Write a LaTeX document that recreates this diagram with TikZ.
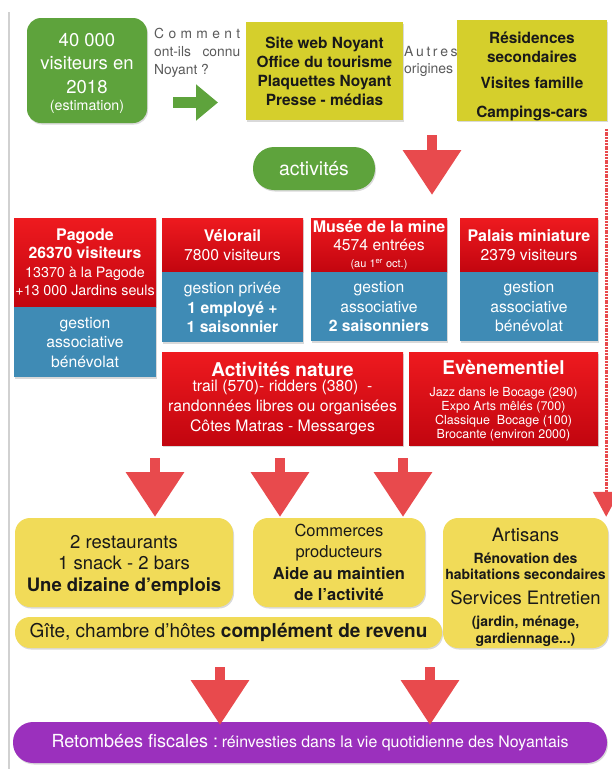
\documentclass[tikz,border=0pt]{standalone}
\usepackage{fontspec}
\setmainfont{TeX Gyre Heros}
\usetikzlibrary{arrows.meta, positioning, shadows}
\definecolor{leafgreen}{HTML}{5EA33C}
\definecolor{olivey}{HTML}{D5CF2C}
\definecolor{softy}{HTML}{F1DB58}
\definecolor{redtop}{HTML}{EE1A1F}
\definecolor{redbot}{HTML}{C2050F}
\definecolor{steelb}{HTML}{3F8BB5}
\definecolor{arrowred}{HTML}{E84A4D}
\definecolor{plum}{HTML}{9B30BD}
\definecolor{notegray}{HTML}{5A5A5A}
\newcommand{\ttl}[1]{{\fontsize{16}{18.5}\selectfont\bfseries #1}}
\tikzset{
  base/.style={inner sep=0pt, align=center,
               drop shadow={opacity=0.3, shadow xshift=1pt, shadow yshift=-1.5pt}},
  vbox/.style={base, fill=leafgreen, text=white, rounded corners=14pt,
               font=\fontsize{18.5}{23}\selectfont},
  ybox/.style={base, fill=olivey, text=black!90,
               font=\fontsize{15.4}{19}\selectfont\bfseries},
  pill/.style={base, fill=leafgreen, text=white, rounded corners=21pt,
               font=\fontsize{19.4}{22}\selectfont},
  rbox/.style={base, top color=redtop, bottom color=redbot, text=white,
               font=\fontsize{15.7}{18.5}\selectfont},
  bbox/.style={base, fill=steelb, text=white,
               font=\fontsize{15.7}{19.5}\selectfont},
  lbox/.style={base, fill=softy, text=black!90, rounded corners=15pt},
  pbar/.style={base, fill=plum, text=white, rounded corners=20pt},
  note/.style={inner sep=0pt, align=left, text=notegray,
               font=\fontsize{13.8}{18}\selectfont},
  fatarr/.style={arrowred, line width=10pt, -{Triangle[width=56pt, length=45pt]}},
  greenarr/.style={leafgreen, line width=11pt, -{Triangle[width=35pt, length=22pt]}},
  dotline/.style={arrowred, line width=3pt, dash pattern=on 2pt off 0.8pt,
                  -{Triangle[width=26pt, length=25pt]}},
}

\begin{document}
\begin{tikzpicture}[x=1pt, y=-1pt]
  \useasboundingbox (0,0) rectangle (611,769);
  \draw[black!18, line width=1.5pt] (9,12) -- (9,769);

  % --- top row: visitors and where they come from ---
  \node[vbox, minimum width=120pt, minimum height=105pt] (vis) at (87,70.5)
    {\rule{0pt}{20pt}40~000\\visiteurs en\\[1pt]2018\\[-6pt]{\fontsize{14.2}{17}\selectfont(estimation)}};
  \node[note, anchor=north west] (how) at (154,28)
    {\makebox[86pt][s]{C o m m e n t}\\\makebox[86pt][s]{ont-ils connu}\\Noyant ?};
  \draw[greenarr] (173,102.5) -- (218,102.5);
  \node[ybox, minimum width=157pt, minimum height=98pt] (web) at (324.5,71)
    {Site web Noyant\\Office du tourisme\\Plaquettes Noyant\\Presse - médias};
  \node[note, anchor=north west, font=\fontsize{14}{17}\selectfont] (oth) at (404,46)
    {\makebox[51pt][s]{A u t r e s}\\origines};
  \node[ybox, minimum width=150pt, minimum height=99pt] (res) at (532,70.5)
    {\rule{0pt}{23pt}Résidences\\secondaires\\[7pt]Visites famille\\[10pt]Campings-cars};

  % --- activities ---
  \node[pill, minimum width=122pt, minimum height=43pt] (act) at (314,168.5) {activités};
  \draw[fatarr] (432,135) -- (432,195);

  \node[rbox, minimum width=142pt, minimum height=89pt] (pag) at (85,262.5)
    {\ttl{Pagode}\\\textbf{26370 visiteurs}\\{\fontsize{14.3}{18}\selectfont 13370 à la Pagode}\\{\fontsize{14.3}{18}\selectfont +13~000 Jardins seuls}};
  \node[bbox, minimum width=142pt, minimum height=70pt, below=0pt of pag] (pagb)
    {gestion\\associative\\bénévolat};
  \node[rbox, minimum width=141pt, minimum height=54pt] (vel) at (232.5,245)
    {\ttl{Vélorail}\\7800 visiteurs};
  \node[bbox, minimum width=141pt, minimum height=70pt, below=0pt of vel] (velb)
    {gestion privée\\\textbf{1 employé +}\\\textbf{1 saisonnier}};
  \node[rbox, minimum width=136pt, minimum height=54pt] (mus) at (379,245)
    {\ttl{Musée de la mine}\\4574 entrées\\[-2pt]{\fontsize{11}{13}\selectfont(au 1\textsuperscript{er} oct.)}};
  \node[bbox, minimum width=136pt, minimum height=69pt, below=0pt of mus] (musb)
    {gestion\\associative\\\textbf{2 saisonniers}};
  \node[rbox, minimum width=138pt, minimum height=54pt] (pal) at (529,245)
    {\ttl{Palais miniature}\\2379 visiteurs};
  \node[bbox, minimum width=138pt, minimum height=69pt, below=0pt of pal] (palb)
    {gestion\\associative\\bénévolat};

  \node[rbox, minimum width=241pt, minimum height=93pt, font=\fontsize{15.8}{20}\selectfont] (nat) at (282.5,398.5)
    {{\fontsize{19}{22}\selectfont\bfseries Activités nature}\\[-5pt]trail (570)- ridders (380)~~-\\randonnées libres ou organisées\\Côtes Matras - Messarges};
  \node[rbox, minimum width=189pt, minimum height=93pt, font=\fontsize{12.5}{14}\selectfont] (evt) at (503.5,398.5)
    {\rule{0pt}{19pt}{\fontsize{19}{22}\selectfont\bfseries Evènementiel}\\[8pt]Jazz dans le Bocage (290)\\Expo Arts mêlés (700)\\Classique~~Bocage (100)\\Brocante (environ 2000)};

  % --- local economy ---
  \draw[fatarr] (155,458) -- (155,517);
  \draw[fatarr] (280,458) -- (280,517);
  \draw[fatarr] (403,458) -- (403,517);

  \node[lbox, minimum width=218pt, minimum height=89pt, font=\fontsize{18.5}{21.5}\selectfont] (rest) at (124,562.5)
    {\rule{0pt}{19pt}2 restaurants\\1 snack - 2 bars\\\textbf{Une dizaine d’emplois}};
  \node[lbox, minimum width=172pt, minimum height=89pt, font=\fontsize{16.5}{21.5}\selectfont] (comm) at (339,562.5)
    {Commerces\\producteurs\\\textbf{Aide au maintien}\\\textbf{de l’activité}};
  \node[lbox, minimum width=427pt, minimum height=31pt, font=\fontsize{19}{22}\selectfont] (gite) at (228.5,632.5)
    {Gîte, chambre d’hôtes \textbf{complément de revenu}};
  \node[lbox, minimum width=165pt, minimum height=130pt, font=\fontsize{14}{16}\selectfont\bfseries] (art) at (525.5,583)
    {\rule{0pt}{22pt}{\fontsize{18.5}{22}\selectfont\mdseries Artisans}\\[6pt]Rénovation des\\habitations secondaires\\[9pt]{\fontsize{18.5}{22}\selectfont\mdseries Services Entretien}\\[6pt](jardin, ménage,\\[1pt]gardiennage...)};
  \draw[dotline] ([xshift=-1pt, yshift=-8pt]res.south east) -- ([xshift=-1pt, yshift=1pt]res.south east |- art.north);

  % --- tax revenue ---
  \node[pbar, minimum width=594pt, minimum height=41pt] (fisc) at (310,742.5)
    {{\fontsize{18}{20}\selectfont Retombées fiscales :} {\fontsize{15.9}{20}\selectfont réinvesties dans la vie quotidienne des Noyantais}};
  \draw[fatarr] (220,667) -- (220,725);
  \draw[fatarr] (430,667) -- (430,725);
\end{tikzpicture}
\end{document}
